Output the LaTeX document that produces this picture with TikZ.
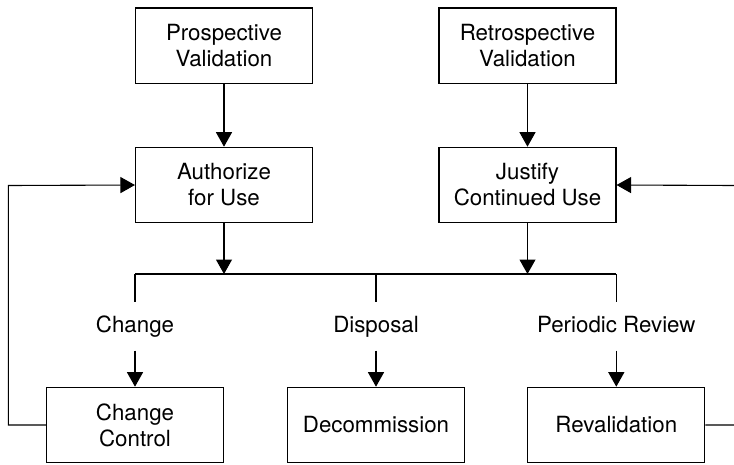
\documentclass[tikz,border=0pt]{standalone}
\usepackage{fontspec}
\setmainfont{TeX Gyre Heros}
\usetikzlibrary{arrows.meta}
\begin{document}
\begin{tikzpicture}[x=1pt,y=-1pt,
  line width=1.1pt,
  font=\fontsize{22.3}{26}\selectfont,
  box/.style={draw, minimum width=177pt, minimum height=75.5pt, inner sep=0pt, align=center},
  lbl/.style={inner sep=0pt, minimum height=47pt, text height=16.5pt, text depth=4.8pt},
  arr/.style={-{Triangle[width=16pt,length=14.5pt]}}
]
\useasboundingbox (0,0) rectangle (734,464);
% boxes
\node[box] (pv) at (224,45.7) {Prospective\\Validation};
\node[box] (rv) at (527.5,45.7) {Retrospective\\Validation};
\node[box] (au) at (224,185) {Authorize\\for Use};
\node[box] (ju) at (527.5,185) {Justify\\Continued Use};
\node[box] (cc) at (135,425) {Change\\Control};
\node[box] (dc) at (376,425) {Decommission};
\node[box] (re) at (616.3,425) {Revalidation};
% branch labels
\node[lbl] (lc) at (135,326.5) {Change};
\node[lbl] (ld) at (376,326.5) {Disposal};
\node[lbl] (lr) at (616.3,326.5) {Periodic Review};
% bus coordinates
\coordinate (busL) at (135,274);
\coordinate (busR) at (616.3,274);
\coordinate (busA) at (224,274);
\coordinate (busJ) at (527.5,274);
\coordinate (busD) at (376,274);
\coordinate (fl) at (8.3,185.5);
\coordinate (fr) at (735.5,185.5);
% connectors
\draw[arr] (pv) -- (au);
\draw[arr] (rv) -- (ju);
\draw[arr] (au) -- (busA);
\draw[arr] (ju) -- (busJ);
\draw (busL) -- (busR);
\draw (busL) -- (lc.north);
\draw (busD) -- (ld.north);
\draw (busR) -- (lr.north);
\draw[arr] (lc.south) -- (cc.north);
\draw[arr] (ld.south) -- (dc.north);
\draw[arr] (lr.south) -- (re.north);
\draw[arr] (cc.west) -| (fl) -- (au.west);
\draw[arr] (re.east) -| (fr) -- (ju.east);
\end{tikzpicture}
\end{document}
